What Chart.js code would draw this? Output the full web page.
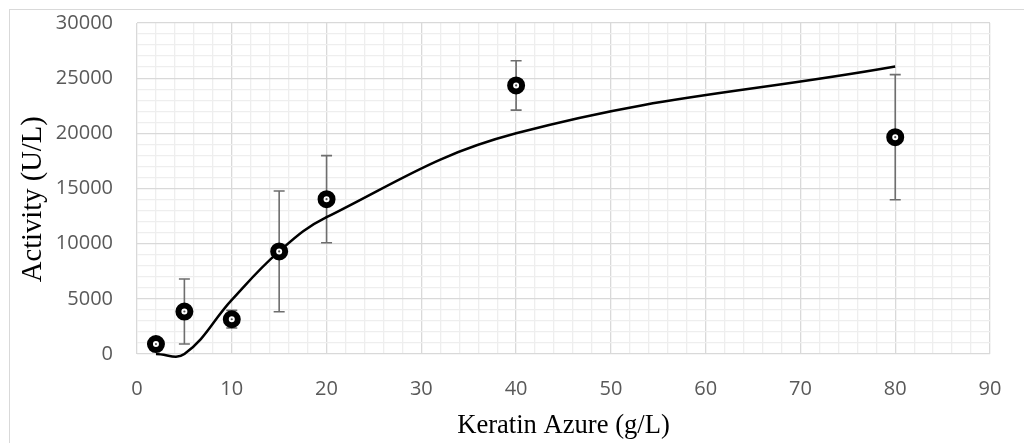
<!DOCTYPE html>
<html>
<head>
<meta charset="utf-8">
<script src="https://cdn.jsdelivr.net/npm/chart.js@4"></script>
<style>
  html, body { margin: 0; padding: 0; background: #fff; }
  #wrap { position: relative; width: 1024px; height: 443px; overflow: hidden; }
  #frame { position: absolute; left: 9px; top: 9px; width: 1100px; height: 500px;
           border-left: 1px solid #d9d9d9; border-top: 1px solid #d9d9d9; }
  canvas { position: absolute; left: 0; top: 0; }
</style>
</head>
<body>
<div id="wrap">
  <div id="frame"></div>
  <canvas id="chart" width="1024" height="443"></canvas>
</div>
<script>
// measured points (x = keratin azure g/L)
const concentrations = [2, 5, 10, 15, 20, 40, 80];
const activity = [900, 3850, 3150, 9300, 14030, 24340, 19650];
const activityErr = [300, 2950, 800, 5470, 3950, 2240, 5675];
// fitted curve evaluated at the same concentrations
const fitValues = [0, 0, 4900, 9300, 12400, 20000, 26050];

const xTicks = { min: 0, max: 90, step: 2, major: 10 };
const yTicks = { min: 0, max: 30000, step: 1000, major: 5000 };

const tickFont = { family: 'Open Sans', size: 20 };

const errorBars = {
  id: 'errorBars',
  beforeDatasetsDraw(chart) {
    const { ctx, scales: { x, y } } = chart;
    ctx.save();
    ctx.strokeStyle = '#6e6e6e';
    ctx.lineWidth = 1.6;
    concentrations.forEach((c, i) => {
      const px = x.getPixelForValue(c);
      const top = y.getPixelForValue(activity[i] + activityErr[i]);
      const bot = y.getPixelForValue(activity[i] - activityErr[i]);
      ctx.beginPath();
      ctx.moveTo(px, top); ctx.lineTo(px, bot);
      ctx.moveTo(px - 5.5, top); ctx.lineTo(px + 5.5, top);
      ctx.moveTo(px - 5.5, bot); ctx.lineTo(px + 5.5, bot);
      ctx.stroke();
    });
    ctx.restore();
  },
  // little dark dot in the middle of each marker
  afterDatasetsDraw(chart) {
    const { ctx, scales: { x, y } } = chart;
    ctx.save();
    ctx.fillStyle = '#555';
    concentrations.forEach((c, i) => {
      ctx.beginPath();
      ctx.arc(x.getPixelForValue(c), y.getPixelForValue(activity[i]), 1.1, 0, Math.PI * 2);
      ctx.fill();
    });
    ctx.restore();
  }
};

function gridColor(major) {
  return (c) => (c.tick && c.tick.value % major === 0) ? '#d9d9d9' : '#eeeeee';
}

new Chart(document.getElementById('chart'), {
  type: 'scatter',
  data: {
    datasets: [
      {
        label: 'Activity',
        data: concentrations.map((c, i) => ({ x: c, y: activity[i] })),
        showLine: false,
        pointRadius: 6,
        pointHoverRadius: 6,
        pointBorderWidth: 6,
        pointBackgroundColor: '#ffffff',
        pointBorderColor: '#000000',
        clip: false
      },
      {
        label: 'Fit',
        data: concentrations.map((c, i) => ({ x: c, y: fitValues[i] })),
        showLine: true,
        tension: 0.4,
        capBezierPoints: false,
        borderColor: '#000000',
        borderWidth: 2.5,
        pointRadius: 0,
        clip: false
      }
    ]
  },
  options: {
    responsive: false,
    animation: false,
    layout: { padding: { left: 0, top: 23, right: 34, bottom: 0 } },
    plugins: { legend: { display: false }, tooltip: { enabled: false } },
    scales: {
      x: {
        type: 'linear',
        min: xTicks.min, max: xTicks.max,
        afterFit: (s) => { s.height = 89; s.paddingLeft = 0; s.paddingRight = 0; },
        afterBuildTicks: (s) => {
          s.ticks = [];
          for (let v = xTicks.min; v <= xTicks.max; v += xTicks.step) s.ticks.push({ value: v });
        },
        ticks: {
          autoSkip: false,
          maxRotation: 0,
          padding: 23,
          color: '#595959',
          font: tickFont,
          callback: (v) => v % xTicks.major === 0 ? String(v) : ''
        },
        grid: { color: gridColor(xTicks.major), lineWidth: 1.3, drawTicks: false },
        border: { display: false },
        title: { display: true, text: 'Keratin Azure (g/L)', color: '#000',
                 font: { family: 'Liberation Serif', size: 26.6 }, padding: { top: 0, bottom: 1 } }
      },
      y: {
        type: 'linear',
        min: yTicks.min, max: yTicks.max,
        afterFit: (s) => { s.width = 137; s.paddingTop = 0; s.paddingBottom = 0; },
        afterBuildTicks: (s) => {
          s.ticks = [];
          for (let v = yTicks.min; v <= yTicks.max; v += yTicks.step) s.ticks.push({ value: v });
        },
        ticks: {
          autoSkip: false,
          padding: 24,
          color: '#595959',
          font: tickFont,
          callback: (v) => v % yTicks.major === 0 ? String(v) : ''
        },
        grid: { color: gridColor(yTicks.major), lineWidth: 1.3, drawTicks: false },
        border: { display: false },
        title: { display: true, text: 'Activity (U/L)\u00a0\u00a0\u00a0', color: '#000',
                 font: { family: 'Liberation Serif', size: 28.6 }, padding: { top: 16, bottom: 0 } }
      }
    }
  },
  plugins: [errorBars]
});
</script>
</body>
</html>
